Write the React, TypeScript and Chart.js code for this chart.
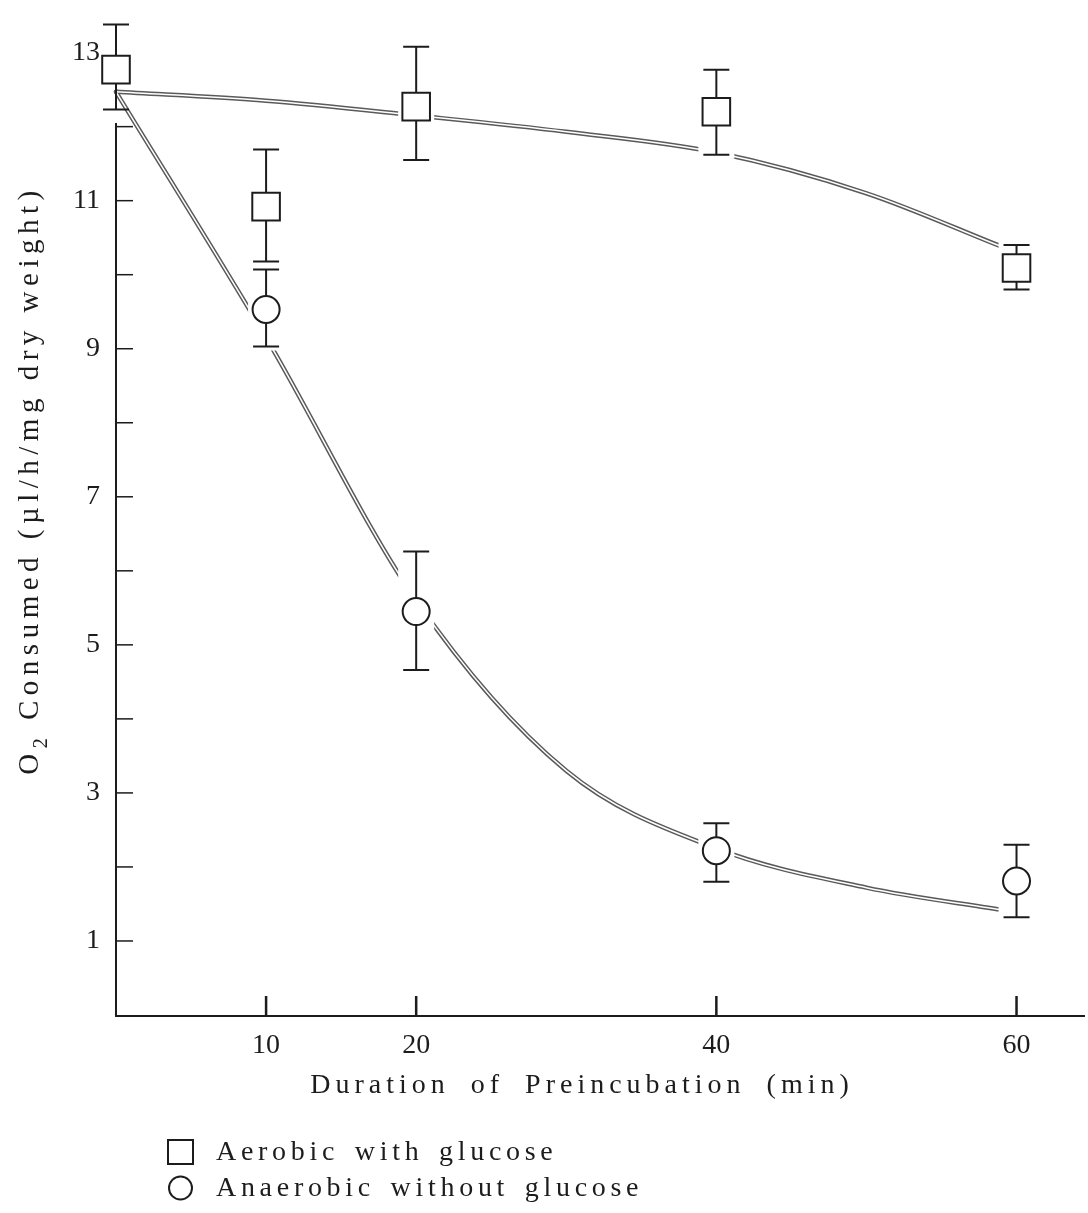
import React, { useEffect, useRef } from 'react';
import { Chart, registerables } from 'chart.js';

Chart.register(...registerables);

// ---------- data ----------
const xTickValues = [10, 20, 40, 60];
const yTickValues = [1, 3, 5, 7, 9, 11, 13];
const yMinorTickValues = [1, 2, 3, 4, 5, 6, 7, 8, 9, 10, 11, 12];

const aerobicTimes = [0, 10, 20, 40, 60];
const aerobicMean = [12.77, 10.92, 12.27, 12.2, 10.09];
const aerobicLow = [12.23, 10.18, 11.55, 11.62, 9.8];
const aerobicHigh = [13.38, 11.69, 13.08, 12.77, 10.4];

const anaerobicTimes = [10, 20, 40, 60];
const anaerobicMean = [9.53, 5.45, 2.22, 1.81];
const anaerobicLow = [9.03, 4.66, 1.8, 1.32];
const anaerobicHigh = [10.07, 6.26, 2.59, 2.3];

const fitTimes = [0, 10, 20, 30, 40, 50, 59];
const aerobicFit = [12.47, 12.35, 12.15, 11.93, 11.65, 11.1, 10.38];
const anaerobicFit = [12.47, 9.15, 5.6, 3.3, 2.25, 1.72, 1.42];

const aerobicLabel = 'Aerobic with glucose';
const anaerobicLabel = 'Anaerobic without glucose';
const xAxisTitle = 'Duration of Preincubation (min)';
const yAxisTitleMain = 'O';
const yAxisTitleSub = '2';
const yAxisTitleRest = ' Consumed (\u00b5l/h/mg dry weight)';

// ---------- styling ----------
const FONT = "'Liberation Serif', 'DejaVu Serif', 'Times New Roman', serif";
const INK = '#1c1c1c';
const LINE_DARK = '#5a5a5a';

const pts = (xs: number[], ys: number[]) => xs.map((x, i) => ({ x, y: ys[i] }));

const decorPlugin = {
  id: 'decor',
  beforeDatasetsDraw(chart: any) {
    chart.$errDrawn = false;
  },
  beforeDatasetDraw(chart: any, args: any) {
    const ds = chart.data.datasets[args.index];
    if (!ds.isMarker || chart.$errDrawn) return;
    chart.$errDrawn = true;
    const { ctx } = chart;
    const x = chart.scales.x;
    const y = chart.scales.y;
    const markers = chart.data.datasets.filter((d: any) => d.isMarker);
    // white halos that break the fitted curves around the error bars
    ctx.save();
    ctx.fillStyle = '#ffffff';
    markers.forEach((d: any) => {
      d.data.forEach((p: any, i: number) => {
        if (p.x <= fitTimes[0]) return;
        const px = x.getPixelForValue(p.x);
        const yh = y.getPixelForValue(d.errHigh[i]);
        const yl = y.getPixelForValue(d.errLow[i]);
        ctx.fillRect(px - 18, yh - 4, 36, yl - yh + 8);
      });
    });
    // error bars
    ctx.strokeStyle = INK;
    ctx.lineWidth = 2;
    markers.forEach((d: any) => {
      d.data.forEach((p: any, i: number) => {
        const px = x.getPixelForValue(p.x);
        const yh = y.getPixelForValue(d.errHigh[i]);
        const yl = y.getPixelForValue(d.errLow[i]);
        ctx.beginPath();
        ctx.moveTo(px, yh);
        ctx.lineTo(px, yl);
        ctx.moveTo(px - 13, yh);
        ctx.lineTo(px + 13, yh);
        ctx.moveTo(px - 13, yl);
        ctx.lineTo(px + 13, yl);
        ctx.stroke();
      });
    });
    ctx.restore();
  },
  afterDraw(chart: any) {
    const { ctx, chartArea } = chart;
    const x = chart.scales.x;
    const y = chart.scales.y;
    ctx.save();
    ctx.strokeStyle = INK;
    // axis lines
    ctx.lineWidth = 2;
    ctx.beginPath();
    ctx.moveTo(chartArea.left, y.getPixelForValue(12.05));
    ctx.lineTo(chartArea.left, chartArea.bottom + 1);
    ctx.lineTo(chart.width - 3, chartArea.bottom + 1);
    ctx.stroke();
    // inward y ticks
    ctx.lineWidth = 1.5;
    yMinorTickValues.forEach((v) => {
      const py = y.getPixelForValue(v);
      ctx.beginPath();
      ctx.moveTo(chartArea.left, py);
      ctx.lineTo(chartArea.left + 17, py);
      ctx.stroke();
    });
    // inward x ticks
    ctx.lineWidth = 2.5;
    xTickValues.forEach((v) => {
      const px = x.getPixelForValue(v);
      ctx.beginPath();
      ctx.moveTo(px, chartArea.bottom);
      ctx.lineTo(px, chartArea.bottom - 19);
      ctx.stroke();
    });

    ctx.fillStyle = INK;
    // x axis title
    ctx.font = `28px ${FONT}`;
    (ctx as any).letterSpacing = '5px';
    (ctx as any).wordSpacing = '9px';
    ctx.textAlign = 'left';
    ctx.textBaseline = 'alphabetic';
    const xtW = ctx.measureText(xAxisTitle).width;
    ctx.fillText(xAxisTitle, 582 - xtW / 2, 1093);

    // y axis title (rotated, with subscript)
    ctx.save();
    ctx.translate(38, 480);
    ctx.rotate(-Math.PI / 2);
    ctx.font = `29px ${FONT}`;
    (ctx as any).letterSpacing = '5.5px';
    (ctx as any).wordSpacing = '8px';
    const wMain = ctx.measureText(yAxisTitleMain).width;
    const wRest = ctx.measureText(yAxisTitleRest).width;
    ctx.font = `20px ${FONT}`;
    const wSub = ctx.measureText(yAxisTitleSub).width;
    const total = wMain + wSub + wRest;
    let cx = -total / 2;
    ctx.font = `29px ${FONT}`;
    ctx.fillText(yAxisTitleMain, cx, 0);
    cx += wMain;
    ctx.font = `20px ${FONT}`;
    ctx.fillText(yAxisTitleSub, cx, 9);
    cx += wSub;
    ctx.font = `29px ${FONT}`;
    ctx.fillText(yAxisTitleRest, cx, 0);
    ctx.restore();

    // legend
    const markers = chart.data.datasets.filter((d: any) => d.isMarker);
    const rows = [1152, 1188];
    ctx.font = `28px ${FONT}`;
    (ctx as any).letterSpacing = '4.7px';
    (ctx as any).wordSpacing = '4px';
    ctx.textBaseline = 'middle';
    ctx.lineWidth = 2;
    markers.forEach((d: any, i: number) => {
      const cy = rows[i];
      ctx.beginPath();
      if (d.pointStyle === 'rect') {
        ctx.rect(168, cy - 12, 25, 24);
      } else {
        ctx.arc(180.5, cy, 11.5, 0, Math.PI * 2);
      }
      ctx.stroke();
      ctx.fillText(d.label, 216, cy + 1);
    });
    ctx.restore();
  },
};

export default function App() {
  const ref = useRef<HTMLCanvasElement | null>(null);
  useEffect(() => {
    document.body.style.margin = '0';
    const canvas = ref.current;
    if (!canvas) return;
    const chart = new Chart(canvas, {
      type: 'scatter',
      data: {
        datasets: [
          {
            label: aerobicLabel,
            data: pts(aerobicTimes, aerobicMean),
            showLine: false,
            pointStyle: 'rect',
            pointRadius: 19.5,
            pointHoverRadius: 19.5,
            borderColor: INK,
            backgroundColor: '#ffffff',
            borderWidth: 2,
            order: 1,
            clip: false,
            isMarker: true,
            errLow: aerobicLow,
            errHigh: aerobicHigh,
          } as any,
          {
            label: anaerobicLabel,
            data: pts(anaerobicTimes, anaerobicMean),
            showLine: false,
            pointStyle: 'circle',
            pointRadius: 13.5,
            pointHoverRadius: 13.5,
            borderColor: INK,
            backgroundColor: '#ffffff',
            borderWidth: 2,
            order: 1,
            clip: false,
            isMarker: true,
            errLow: anaerobicLow,
            errHigh: anaerobicHigh,
          } as any,
          {
            label: 'aerobic fit (outline)',
            data: pts(fitTimes, aerobicFit),
            showLine: true,
            pointRadius: 0,
            borderColor: LINE_DARK,
            borderWidth: 4.5,
            cubicInterpolationMode: 'monotone',
            borderCapStyle: 'round',
            order: 4,
            clip: false,
          } as any,
          {
            label: 'anaerobic fit (outline)',
            data: pts(fitTimes, anaerobicFit),
            showLine: true,
            pointRadius: 0,
            borderColor: LINE_DARK,
            borderWidth: 4.5,
            cubicInterpolationMode: 'monotone',
            borderCapStyle: 'round',
            order: 4,
            clip: false,
          } as any,
          {
            label: 'aerobic fit',
            data: pts(fitTimes, aerobicFit),
            showLine: true,
            pointRadius: 0,
            borderColor: '#ffffff',
            borderWidth: 1.5,
            cubicInterpolationMode: 'monotone',
            order: 3,
            clip: false,
          } as any,
          {
            label: 'anaerobic fit',
            data: pts(fitTimes, anaerobicFit),
            showLine: true,
            pointRadius: 0,
            borderColor: '#ffffff',
            borderWidth: 1.5,
            cubicInterpolationMode: 'monotone',
            order: 3,
            clip: false,
          } as any,
        ],
      },
      options: {
        responsive: false,
        animation: false,
        events: [],
        layout: { padding: { top: 23, right: 4, left: 0, bottom: 0 } },
        plugins: {
          legend: { display: false },
          tooltip: { enabled: false },
        },
        scales: {
          x: {
            type: 'linear',
            min: 0,
            max: 63.33,
            afterFit: (s: any) => {
              s.height = 198;
              s.paddingLeft = 0;
              s.paddingRight = 0;
            },
            afterBuildTicks: (s: any) => {
              s.ticks = xTickValues.map((v) => ({ value: v }));
            },
            grid: { display: false, drawTicks: false },
            border: { display: false },
            ticks: {
              font: { family: FONT, size: 28 },
              color: INK,
              padding: 14,
              maxRotation: 0,
              autoSkip: false,
            },
          },
          y: {
            type: 'linear',
            min: 0,
            max: 13.4,
            afterFit: (s: any) => {
              s.width = 116;
              s.paddingTop = 0;
              s.paddingBottom = 0;
            },
            afterBuildTicks: (s: any) => {
              s.ticks = yTickValues.map((v) => ({ value: v }));
            },
            grid: { display: false, drawTicks: false },
            border: { display: false },
            ticks: {
              font: { family: FONT, size: 28 },
              color: INK,
              padding: 16,
              autoSkip: false,
            },
          },
        },
      } as any,
      plugins: [decorPlugin as any],
    });
    return () => chart.destroy();
  }, []);
  return (
    <canvas
      ref={ref}
      width={1088}
      height={1213}
      style={{ display: 'block', width: 1088, height: 1213 }}
    />
  );
}
